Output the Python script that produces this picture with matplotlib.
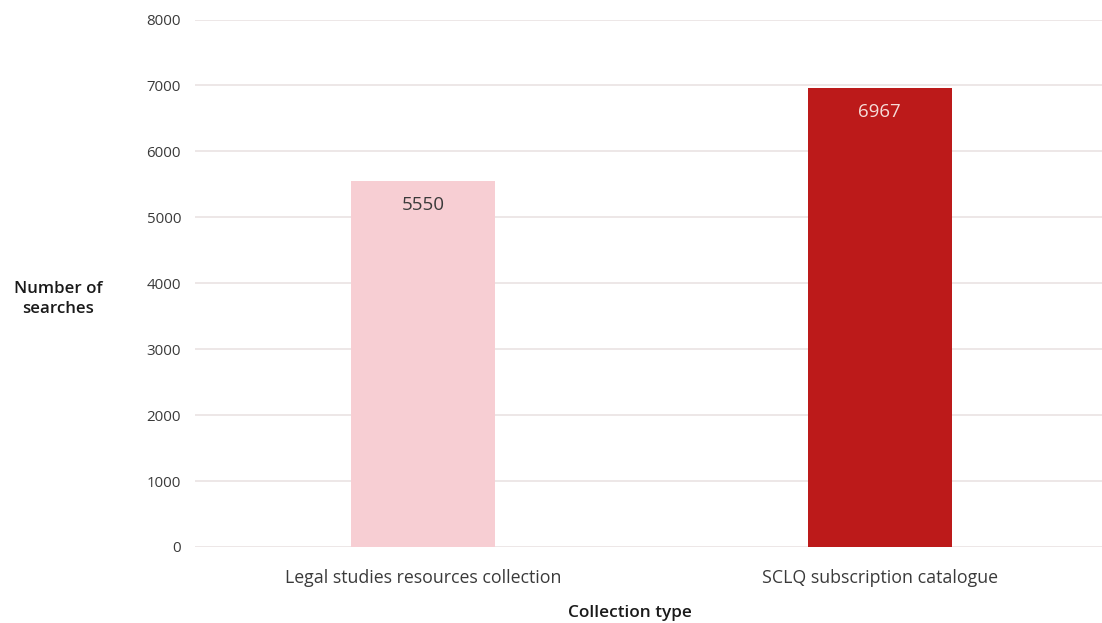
import matplotlib
matplotlib.use("Agg")
import matplotlib.pyplot as plt

categories = ["Legal studies resources collection", "SCLQ subscription catalogue"]
searches = [5550, 6967]
bar_colors = ["#f7ced3", "#bc1a1a"]
label_colors = ["#3a3a3a", "#f6dcd8"]
y_ticks = [0, 1000, 2000, 3000, 4000, 5000, 6000, 7000, 8000]

plt.rcParams["font.family"] = ["Open Sans", "DejaVu Sans"]
text_color = "#3a3a3a"
grid_color = "#ece5e5"

fig = plt.figure(figsize=(11.02, 6.23), dpi=100)
W, H = 1102, 623
left_px, right_px = 195, 1108
bottom_px, top_px = 547, 19.5
ax = fig.add_axes([left_px / W, (H - bottom_px) / H,
                   (right_px - left_px) / W, (bottom_px - top_px) / H])

x = list(range(len(categories)))
bars = ax.bar(x, searches, width=0.315, color=bar_colors, zorder=2)

ax.set_xlim(-0.5, 1.5)
ax.set_ylim(0, 8000)
ax.set_yticks(y_ticks)
ax.set_yticklabels([str(v) for v in y_ticks])
ax.set_xticks(x)
ax.set_xticklabels(categories)

ax.grid(axis="y", color=grid_color, linewidth=1.3, zorder=0)
ax.set_axisbelow(True)
for s in ax.spines.values():
    s.set_visible(False)
ax.tick_params(axis="y", length=0, pad=10, labelsize=10.8, labelcolor=text_color)
ax.tick_params(axis="x", length=0, pad=16, labelsize=12.8, labelcolor=text_color)

for rect, val, col in zip(bars, searches, label_colors):
    ax.annotate(str(val), (rect.get_x() + rect.get_width() / 2, val),
                xytext=(0, -24), textcoords="offset pixels",
                ha="center", va="center", fontsize=13.5, color=col, zorder=3)

fig.text(58 / W, 1 - 299 / H, "Number of\nsearches", ha="center", va="center",
         fontsize=12.2, fontweight="semibold", color="#1a1a1a", linespacing=1.3)
fig.text(630 / W, 1 - 613 / H, "Collection type", ha="center", va="center",
         fontsize=12.4, fontweight="semibold", color="#1a1a1a")

fig.savefig("out.png", dpi=100, facecolor="white")
